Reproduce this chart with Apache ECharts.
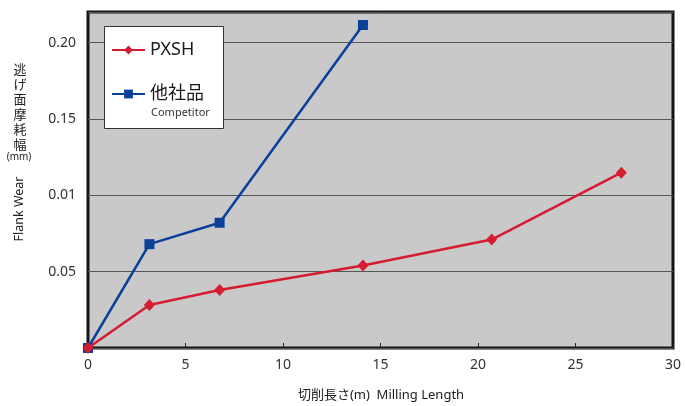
<!DOCTYPE html>
<html><head><meta charset="utf-8">
<script src="https://cdn.jsdelivr.net/npm/echarts@6/dist/echarts.min.js"></script>
<style>html,body{margin:0;padding:0;background:#fff}#c{width:685px;height:406px}</style>
</head><body><div id="c"></div>
<script>
var pxshX = [0, 3.15, 6.75, 14.1, 20.7, 27.35];
var pxshY = [0, 0.0282, 0.038, 0.054, 0.071, 0.1148];
var compX = [0, 3.15, 6.75, 14.1];
var compY = [0, 0.068, 0.082, 0.2115];
var yTickValues = [0.05, 0.10, 0.15, 0.20];
var yTickLabels = ['0.05', '0.01', '0.15', '0.20'];
var seriesNames = ['PXSH', '他社品'];

function pairs(xs, ys){ return xs.map(function(x,i){ return [x, ys[i]]; }); }
var font = '"Noto Sans", "Noto Sans CJK JP", sans-serif';
var chart = echarts.init(document.getElementById('c'), null, {renderer:'canvas'});
chart.setOption({
  animation:false,
  textStyle:{fontFamily:font},
  grid:{left:88, right:12, top:12, bottom:58, show:true, backgroundColor:'#c8c9c8', borderColor:'#151515', borderWidth:3},
  xAxis:{type:'value', min:0, max:30, interval:5,
    axisLine:{show:false},
    axisTick:{show:true, inside:true, length:5, lineStyle:{color:'#222', width:1}},
    splitLine:{show:false},
    axisLabel:{color:'#333', fontSize:14, margin:10, fontFamily:font}},
  yAxis:{type:'value', min:0, max:0.22, interval:0.05,
    axisLine:{show:false}, axisTick:{show:false},
    splitLine:{show:true, lineStyle:{color:'#555', width:1}},
    axisLabel:{color:'#333', fontSize:14, margin:12, fontFamily:font,
      formatter:function(v){ for(var i=0;i<yTickValues.length;i++){ if(Math.abs(v-yTickValues[i])<1e-6) return yTickLabels[i]; } return ''; }}},
  legend:{data:seriesNames, orient:'vertical', left:106, top:36, itemWidth:33, itemHeight:11, itemGap:26, z:10,
    textStyle:{fontSize:18, color:'#1a1a1a', fontFamily:font}},
  graphic:[
    {type:'rect', left:104, top:26, shape:{width:119, height:102}, style:{fill:'#fff', stroke:'#333', lineWidth:1}, z:5},
    {type:'text', left:151, top:107, style:{text:'Competitor', fontSize:11, fill:'#333', fontFamily:font}, z:11},
    {type:'text', x:20, y:63, style:{text:'逃\nげ\n面\n摩\n耗\n幅', fontSize:13, lineHeight:15, fill:'#222', align:'center', verticalAlign:'top', fontFamily:font}},
    {type:'text', x:19, y:152, style:{text:'(mm)', fontSize:10, fill:'#222', align:'center', verticalAlign:'top', fontFamily:font}},
    {type:'text', x:19, y:209, rotation:Math.PI/2, style:{text:'Flank Wear', fontSize:12.5, fill:'#222', align:'center', verticalAlign:'middle', fontFamily:font}},
    {type:'text', x:381, y:395, style:{text:'切削長さ(m)  Milling Length', fontSize:13, fill:'#222', align:'center', verticalAlign:'middle', fontFamily:font}}
  ],
  series:[
    {name:'他社品', type:'line', data:pairs(compX, compY), symbol:'rect', symbolSize:10,
      lineStyle:{color:'#0a3f9a', width:2.5}, itemStyle:{color:'#0a3f9a'}, z:2},
    {name:'PXSH', type:'line', data:pairs(pxshX, pxshY), symbol:'diamond', symbolSize:[11,12],
      lineStyle:{color:'#d51c30', width:2.5}, itemStyle:{color:'#d51c30'}, z:3}
  ]
});
</script></body></html>
